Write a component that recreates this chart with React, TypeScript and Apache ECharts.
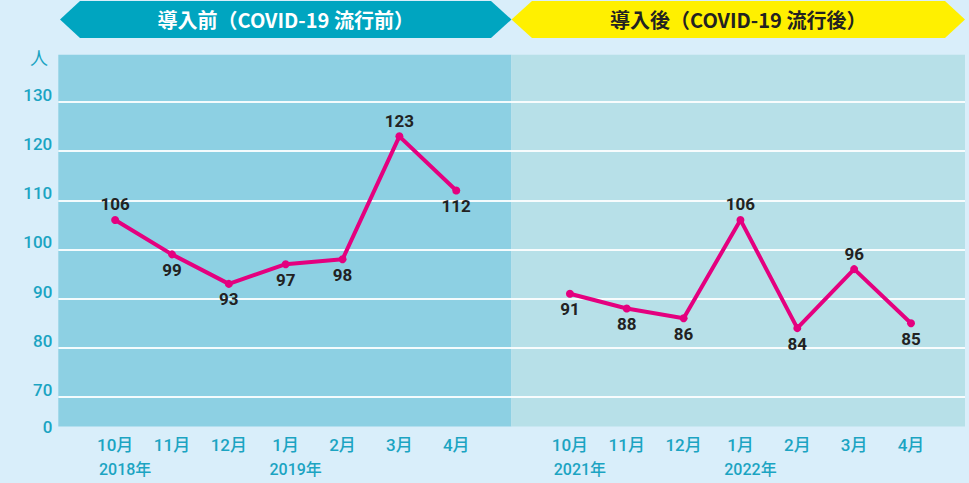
import React, { useEffect, useRef } from "react";
import * as echarts from "echarts";

const months = ["10月", "11月", "12月", "1月", "2月", "3月", "4月"];
const beforeValues = [106, 99, 93, 97, 98, 123, 112];
const afterValues = [91, 88, 86, 106, 84, 96, 85];
const beforeLabelPos = ["top", "bottom", "bottom", "bottom", "bottom", "top", "bottom"];
const afterLabelPos = ["bottom", "bottom", "bottom", "top", "bottom", "top", "bottom"];
const beforeYears = ["2018年", "", "", "2019年", "", "", ""];
const afterYears = ["2021年", "", "", "2022年", "", "", ""];
const yTicks = [70, 80, 90, 100, 110, 120, 130];
const yBreakLabel = "0";
const unitLabel = "人";
const titleBefore = "導入前（COVID-19 流行前）";
const titleAfter = "導入後（COVID-19 流行後）";

const AXIS_MIN_Y = 64;
const AXIS_MAX_Y = 139.6;
const GAP = 8; // index offset of the second panel

const TEAL_TEXT = "#1BA4C2";
const MAGENTA = "#E4007F";
const FONT = 'Roboto, "Noto Sans CJK JP", sans-serif';

export default function App() {
  const ref = useRef<HTMLDivElement>(null);

  useEffect(() => {
    if (!ref.current) return;
    const chart = echarts.init(ref.current, undefined, { renderer: "svg" });

    const allMonths: string[] = [];
    const allYears: string[] = [];
    months.forEach((m, i) => {
      allMonths[i] = m;
      allMonths[i + GAP] = m;
    });
    beforeYears.forEach((y, i) => (allYears[i] = y));
    afterYears.forEach((y, i) => (allYears[i + GAP] = y));
    const monthPositions = [...months.map((_, i) => i), ...months.map((_, i) => i + GAP)];
    const yearPositions = monthPositions.filter((p) => allYears[p]);

    const mkData = (vals: number[], pos: string[], offset: number) =>
      vals.map((v, i) => ({
        value: [i + offset, v],
        label: { position: pos[i] },
      }));

    const lineSeries = (name: string, vals: number[], pos: string[], offset: number) => ({
      name,
      type: "line",
      z: 5,
      data: mkData(vals, pos, offset),
      symbol: "circle",
      symbolSize: 8,
      lineStyle: { color: MAGENTA, width: 4 },
      itemStyle: { color: MAGENTA },
      label: {
        show: true,
        distance: 3,
        formatter: (p: any) => String(p.value[1]),
        color: "#222",
        fontSize: 17,
        fontWeight: "bold",
        fontFamily: FONT,
      },
    });

    const banner = (pts: number[][], fill: string, text: string, textColor: string) => {
      const cx = (pts[0][0] + pts[3][0]) / 2;
      return [
        { type: "polygon", shape: { points: pts }, style: { fill } },
        {
          type: "text",
          x: cx,
          y: pts[0][1],
          style: {
            text,
            fill: textColor,
            fontSize: 20,
            fontWeight: "bold",
            fontFamily: '"Noto Sans CJK JP", sans-serif',
            align: "center",
            verticalAlign: "middle",
          },
        },
      ];
    };

    chart.setOption({
      animation: false,
      backgroundColor: "#D9EEFA",
      grid: { left: 58.3, right: 4, top: 54.7, bottom: 56.5, containLabel: false },
      xAxis: [
        {
          type: "value",
          min: -1,
          max: 14.95,
          axisLine: { show: false },
          axisTick: { show: false },
          splitLine: { show: false },
          axisLabel: {
            customValues: monthPositions,
            formatter: (v: number) => allMonths[Math.round(v)] ?? "",
            color: TEAL_TEXT,
            fontSize: 17,
            fontWeight: 500,
            fontFamily: FONT,
            margin: 10,
          },
        },
        {
          type: "value",
          min: -1,
          max: 14.95,
          position: "bottom",
          axisLine: { show: false },
          axisTick: { show: false },
          splitLine: { show: false },
          axisLabel: {
            customValues: yearPositions,
            formatter: (v: number) => allYears[Math.round(v)] ?? "",
            color: TEAL_TEXT,
            fontSize: 16,
            fontWeight: 500,
            fontFamily: FONT,
            margin: 35,
            padding: [0, 0, 0, 20],
          },
        },
      ],
      yAxis: {
        type: "value",
        min: AXIS_MIN_Y,
        max: AXIS_MAX_Y,
        axisLine: { show: false },
        axisTick: { show: false },
        splitLine: { show: false },
        axisLabel: {
          customValues: [AXIS_MIN_Y, ...yTicks],
          formatter: (v: number) => (v === AXIS_MIN_Y ? `{z|${yBreakLabel}}` : `{n|${v}}`),
          margin: 6,
          rich: {
            n: {
              color: TEAL_TEXT,
              fontSize: 17,
              fontWeight: 500,
              fontFamily: FONT,
              lineHeight: 17,
              padding: [0, 0, 14, 0],
            },
            z: {
              color: TEAL_TEXT,
              fontSize: 17,
              fontWeight: 500,
              fontFamily: FONT,
              lineHeight: 17,
            },
          },
        },
      },
      graphic: [
        ...banner(
          [
            [60, 19.5],
            [80, 1],
            [491, 1],
            [511.5, 19.5],
            [491, 38],
            [80, 38],
          ],
          "#00A5C0",
          titleBefore,
          "#FFFFFF"
        ),
        ...banner(
          [
            [511.5, 19.5],
            [532, 1],
            [945, 1],
            [965, 19.5],
            [945, 38],
            [532, 38],
          ],
          "#FFF000",
          titleAfter,
          "#222222"
        ),
        {
          type: "text",
          x: 39,
          y: 57,
          style: {
            text: unitLabel,
            fill: TEAL_TEXT,
            fontSize: 18,
            fontFamily: '"Noto Sans CJK JP", sans-serif',
            align: "center",
            verticalAlign: "middle",
          },
        },
      ],
      series: [
        {
          name: "bg",
          type: "line",
          data: [],
          z: 1,
          silent: true,
          markArea: {
            silent: true,
            z: 1,
            data: [
              [{ xAxis: -1, itemStyle: { color: "#8DD0E3" } }, { xAxis: 6.97 }],
              [{ xAxis: 6.97, itemStyle: { color: "#B7E0E8" } }, { xAxis: 14.95 }],
            ],
          },
          markLine: {
            silent: true,
            z: 2,
            symbol: "none",
            label: { show: false },
            lineStyle: { color: "#FFFFFF", width: 2, type: "solid", opacity: 0.9 },
            data: yTicks.map((t) => ({ yAxis: t })),
          },
        },
        lineSeries("導入前", beforeValues, beforeLabelPos, 0),
        lineSeries("導入後", afterValues, afterLabelPos, GAP),
      ],
    });

    return () => chart.dispose();
  }, []);

  return (
    <div
      ref={ref}
      style={{ position: "fixed", left: 0, top: 0, width: 969, height: 483 }}
    />
  );
}
